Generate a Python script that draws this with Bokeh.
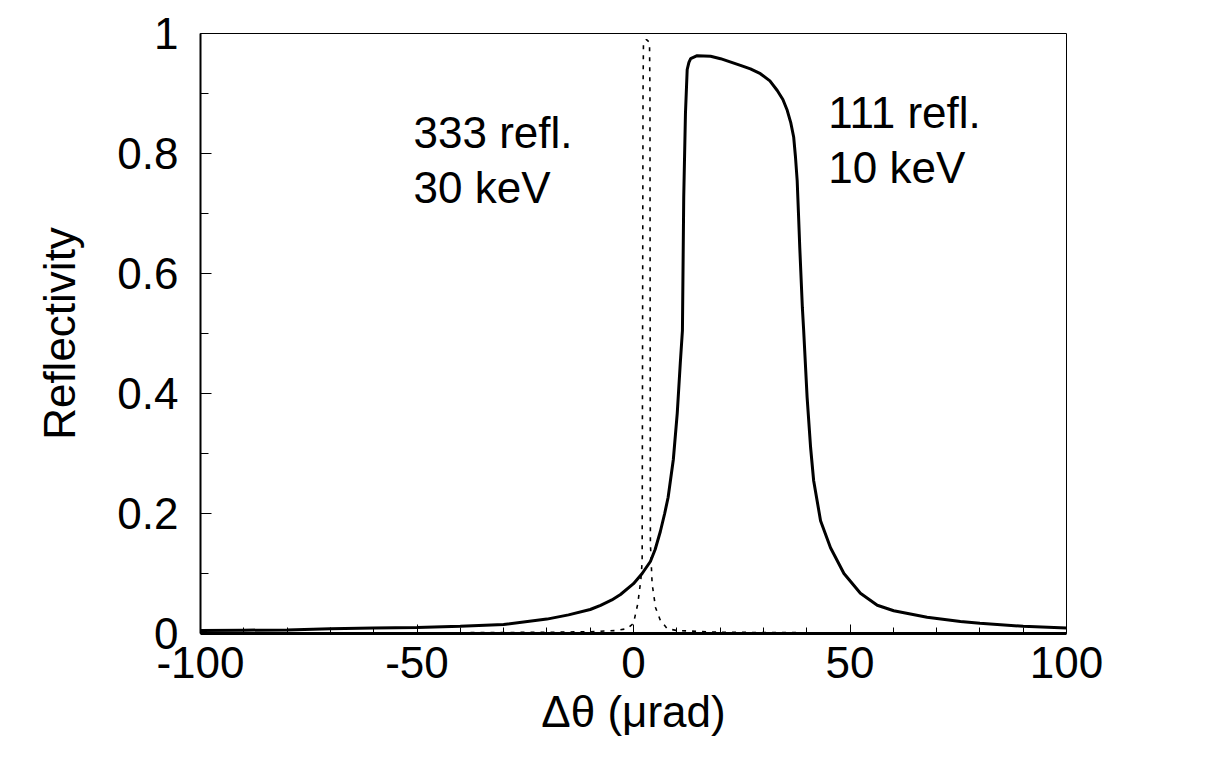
from bokeh.plotting import figure
from bokeh.models import Range1d, FixedTicker, Label, CustomJSTickFormatter
from bokeh.embed import file_html
from bokeh.resources import INLINE

# 111 reflection, 10 keV (solid)
x111 = [-100, -90, -80, -70, -60, -50, -40, -30, -20, -15, -10, -7.6, -5, -3, 0, 2, 3.9, 5, 6.2, 7.2, 8,
        9.2, 10.1, 10.8, 11.3, 11.6, 12.0, 12.4, 12.8, 13.2, 14.7, 17.8, 20.1, 24.7, 27.0, 29.3, 31.5,
        33.2, 34.5, 35.5, 36.3, 37.0, 37.4, 37.8, 38.1, 38.4, 39.0, 39.3, 40.1, 40.9, 41.6, 43.2, 45.5,
        48.6, 52.4, 56.3, 60.1, 67.8, 75.5, 80, 90, 100]
r111 = [0.005, 0.0055, 0.006, 0.008, 0.009, 0.010, 0.012, 0.015, 0.024, 0.031, 0.040, 0.047, 0.056, 0.065,
        0.083, 0.10, 0.12, 0.14, 0.17, 0.20, 0.227, 0.29, 0.367, 0.45, 0.505, 0.727, 0.867, 0.94, 0.952,
        0.958, 0.963, 0.962, 0.958, 0.947, 0.941, 0.933, 0.921, 0.905, 0.89, 0.872, 0.852, 0.827, 0.795,
        0.755, 0.70, 0.643, 0.543, 0.505, 0.393, 0.31, 0.255, 0.188, 0.143, 0.10, 0.067, 0.047, 0.038,
        0.027, 0.020, 0.017, 0.012, 0.009]

# 333 reflection, 30 keV (dotted)
x333 = [-100, -50, -20, -10, -4, -1.5, 0, 1.0, 1.7, 2.0, 2.1, 2.2, 2.3, 3.0, 3.7, 3.8, 3.85, 3.9, 4.3,
        5.1, 6.2, 7.8, 10, 20, 50, 100]
r333 = [0.0005, 0.001, 0.002, 0.003, 0.005, 0.008, 0.017, 0.05, 0.09, 0.12, 0.5, 0.9, 0.985, 0.99, 0.985,
        0.9, 0.5, 0.15, 0.083, 0.043, 0.022, 0.008, 0.005, 0.002, 0.001, 0.0005]

x_ticks = [-100, -50, 0, 50, 100]
x_minor = [-90, -80, -70, -60, -40, -30, -20, -10, 10, 20, 30, 40, 60, 70, 80, 90]
y_ticks = [0, 0.2, 0.4, 0.6, 0.8, 1.0]
y_minor = [0.1, 0.3, 0.5, 0.7, 0.9]

FONT = "Liberation Sans"

p = figure(frame_width=866, frame_height=600, x_range=Range1d(-100, 100), y_range=Range1d(0, 1),
           output_backend="svg", toolbar_location=None,
           min_border_left=200, min_border_right=140, min_border_top=33, min_border_bottom=119)
p.background_fill_color = "white"
p.border_fill_color = "white"
p.xgrid.visible = False
p.ygrid.visible = False
p.outline_line_color = "black"
p.outline_line_width = 1

p.line(x111, r111, line_color="black", line_width=3)
p.line(x333, r333, line_color="black", line_width=1.6, line_dash="4 6")

xa = p.xaxis[0]
xa.ticker = FixedTicker(ticks=x_ticks, minor_ticks=x_minor)
xa.formatter = CustomJSTickFormatter(code="return String(Math.round(tick));")
xa.axis_line_width = 3
xa.axis_line_color = "black"
xa.major_tick_in = 9
xa.major_tick_out = 0
xa.minor_tick_in = 6
xa.minor_tick_out = 0
xa.major_tick_line_color = "black"
xa.minor_tick_line_color = "black"
xa.major_label_text_font = FONT
xa.major_label_text_font_size = "44px"
xa.major_label_text_color = "black"
xa.major_label_standoff = 13
xa.axis_label = "Δθ (μrad)"
xa.axis_label_text_font = FONT
xa.axis_label_text_font_size = "44px"
xa.axis_label_text_font_style = "normal"
xa.axis_label_text_color = "black"
xa.axis_label_standoff = 6

ya = p.yaxis[0]
ya.ticker = FixedTicker(ticks=y_ticks, minor_ticks=y_minor)
ya.formatter = CustomJSTickFormatter(code="return tick.toFixed(1).replace(/\\.0$/, '');")
ya.axis_line_width = 2
ya.axis_line_color = "black"
ya.major_tick_in = 11
ya.major_tick_out = 0
ya.minor_tick_in = 8
ya.minor_tick_out = 0
ya.major_tick_line_color = "black"
ya.minor_tick_line_color = "black"
ya.major_label_text_font = FONT
ya.major_label_text_font_size = "44px"
ya.major_label_text_color = "black"
ya.major_label_standoff = 22
ya.axis_label = "Reflectivity"
ya.axis_label_text_font = FONT
ya.axis_label_text_font_size = "44px"
ya.axis_label_text_font_style = "normal"
ya.axis_label_text_color = "black"
ya.axis_label_standoff = 30

for txt, x, y in [("333 refl.", -50.8, 0.835), ("30 keV", -50.8, 0.743),
                  ("111 refl.", 45.0, 0.868), ("10 keV", 45.0, 0.777)]:
    p.add_layout(Label(x=x, y=y, text=txt, text_font=FONT, text_font_size="44px",
                       text_color="black", text_baseline="alphabetic", text_align="left"))

open("out.html", "w").write(file_html(p, INLINE))
